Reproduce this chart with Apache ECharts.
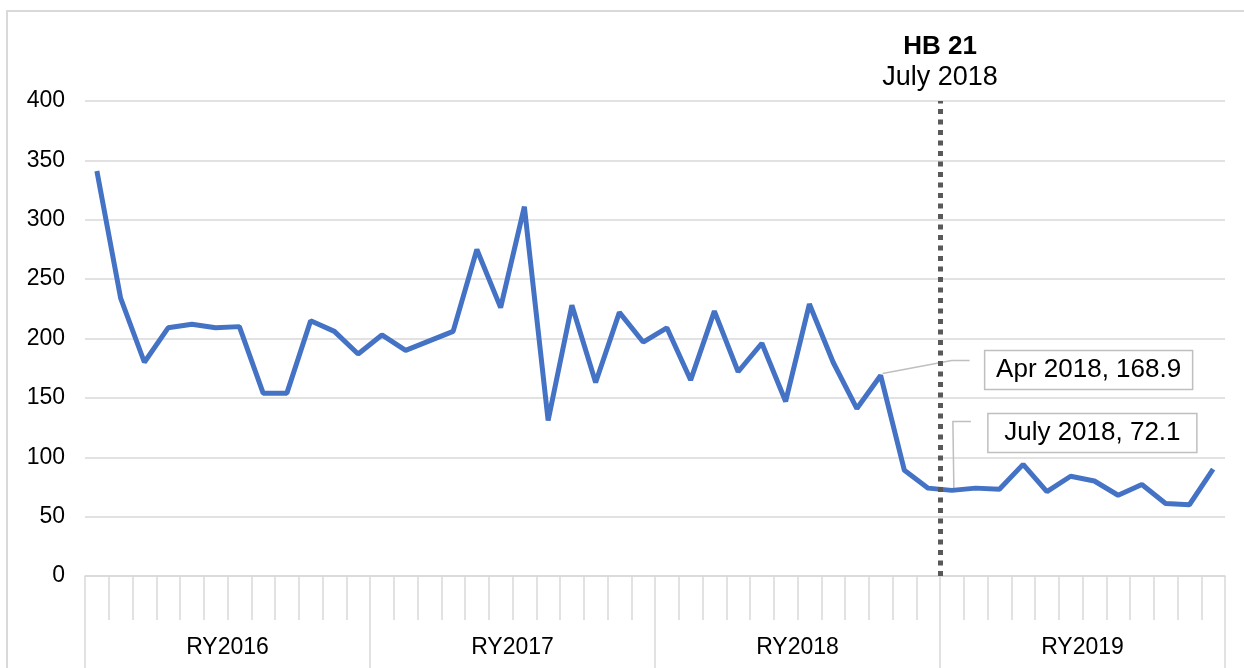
<!DOCTYPE html>
<html>
<head>
<meta charset="utf-8">
<script src="https://cdn.jsdelivr.net/npm/echarts@6/dist/echarts.min.js"></script>
<style>
  html, body { margin: 0; padding: 0; background: #fff; }
  #chart { width: 1244px; height: 668px; }
</style>
</head>
<body>
<div id="chart"></div>
<script>
// monthly categories, reporting years start in July
const months = [
  'Jul 2015', 'Aug 2015', 'Sep 2015', 'Oct 2015', 'Nov 2015', 'Dec 2015',
  'Jan 2016', 'Feb 2016', 'Mar 2016', 'Apr 2016', 'May 2016', 'Jun 2016',
  'Jul 2016', 'Aug 2016', 'Sep 2016', 'Oct 2016', 'Nov 2016', 'Dec 2016',
  'Jan 2017', 'Feb 2017', 'Mar 2017', 'Apr 2017', 'May 2017', 'Jun 2017',
  'Jul 2017', 'Aug 2017', 'Sep 2017', 'Oct 2017', 'Nov 2017', 'Dec 2017',
  'Jan 2018', 'Feb 2018', 'Mar 2018', 'Apr 2018', 'May 2018', 'Jun 2018',
  'Jul 2018', 'Aug 2018', 'Sep 2018', 'Oct 2018', 'Nov 2018', 'Dec 2018',
  'Jan 2019', 'Feb 2019', 'Mar 2019', 'Apr 2019', 'May 2019', 'Jun 2019'
];
const years = ['RY2016', 'RY2017', 'RY2018', 'RY2019'];
const values = [
  341, 234, 180, 209, 212, 209, 210, 154, 154, 215, 206, 187,
  203, 190, 198, 206, 275, 226, 311, 131, 228, 163, 222, 197,
  209, 165, 223, 172, 196, 147, 229, 180, 141, 168.9, 89, 74,
  72.1, 74, 73, 94, 71, 84, 80, 68, 77, 61, 60, 90
];
const yTicks = [0, 50, 100, 150, 200, 250, 300, 350, 400];
// callouts: [category index, text]
const callouts = [
  [33, 'Apr 2018, 168.9'],
  [36, 'July 2018, 72.1']
];
const eventIndex = 36; // HB 21 takes effect, boundary before July 2018

const font = 'Liberation Sans, Arial, sans-serif';
const chart = echarts.init(document.getElementById('chart'));

chart.setOption({
  animation: false,
  grid: { left: 85, right: 19, top: 101, bottom: 92 },
  xAxis: [
    {
      type: 'category',
      data: months,
      axisLine: { show: true, lineStyle: { color: '#d9d9d9', width: 1.5 } },
      axisTick: { show: true, interval: 0, length: 44, lineStyle: { color: '#d9d9d9', width: 1.5 } },
      axisLabel: { show: false },
      splitLine: { show: false }
    },
    {
      type: 'category',
      data: years,
      position: 'bottom',
      axisLine: { show: false },
      axisTick: { show: true, interval: 0, length: 95, lineStyle: { color: '#d9d9d9', width: 1.5 } },
      axisLabel: { interval: 0, margin: 60, color: '#000', fontSize: 23, fontFamily: font }
    },
    {
      type: 'value',
      min: 0,
      max: 48,
      show: false
    }
  ],
  yAxis: {
    type: 'value',
    min: yTicks[0],
    max: yTicks[yTicks.length - 1],
    interval: 50,
    axisLine: { show: false },
    axisTick: { show: false },
    axisLabel: { margin: 20, color: '#000', fontSize: 23, fontFamily: font },
    splitLine: { lineStyle: { color: '#d9d9d9', width: 1.5 } }
  },
  series: [
    {
      type: 'line',
      data: values,
      xAxisIndex: 0,
      showSymbol: false,
      lineStyle: { color: '#4472C4', width: 5 },
      itemStyle: { color: '#4472C4' }
    },
    {
      type: 'line',
      xAxisIndex: 2,
      data: [],
      markLine: {
        silent: true,
        symbol: 'none',
        lineStyle: { color: '#595959', width: 5, type: [5, 5.5] },
        label: {
          show: true,
          position: 'end',
          distance: 8,
          formatter: '{b|HB 21}\n{n|July 2018}',
          rich: {
            b: { fontSize: 26, fontWeight: 'bold', color: '#000', fontFamily: font, lineHeight: 31, align: 'center' },
            n: { fontSize: 27, color: '#000', fontFamily: font, lineHeight: 31, align: 'center' }
          }
        },
        data: [{ xAxis: eventIndex }]
      }
    }
  ]
});

// callout boxes with leader lines, anchored to the data points
function drawCallouts() {
  const elements = [
    {
      type: 'rect',
      shape: { x: 7, y: 11, width: 1260, height: 700 },
      style: { fill: 'none', stroke: '#d9d9d9', lineWidth: 2 },
      silent: true
    }
  ];
  // leader shapes: elbow offset, end offset, box offset
  const shapes = [
    { pts: [[71, -15], [89, -15]], box: [104, -25, 208, 39] },
    { pts: [[1, -69], [19, -69]], box: [36, -77, 209, 39] }
  ];
  callouts.forEach((c, i) => {
    const p = chart.convertToPixel({ xAxisIndex: 0, yAxisIndex: 0 }, [c[0], values[c[0]]]);
    const s = shapes[i];
    const points = [[p[0] + 2, p[1] - 2]].concat(s.pts.map(d => [p[0] + d[0], p[1] + d[1]]));
    elements.push({
      type: 'polyline',
      shape: { points: points },
      style: { stroke: '#bfbfbf', lineWidth: 1.5, fill: 'none' },
      silent: true
    });
    const bx = p[0] + s.box[0], by = p[1] + s.box[1];
    elements.push({
      type: 'rect',
      shape: { x: bx, y: by, width: s.box[2], height: s.box[3] },
      style: { fill: '#fff', stroke: '#bfbfbf', lineWidth: 1.5 },
      silent: true
    });
    elements.push({
      type: 'text',
      x: bx + s.box[2] / 2,
      y: by + s.box[3] / 2,
      style: {
        text: c[1], fontSize: 26, fontFamily: font, fill: '#000',
        align: 'center', verticalAlign: 'middle'
      },
      silent: true
    });
  });
  chart.setOption({ graphic: elements });
}
drawCallouts();
</script>
</body>
</html>
